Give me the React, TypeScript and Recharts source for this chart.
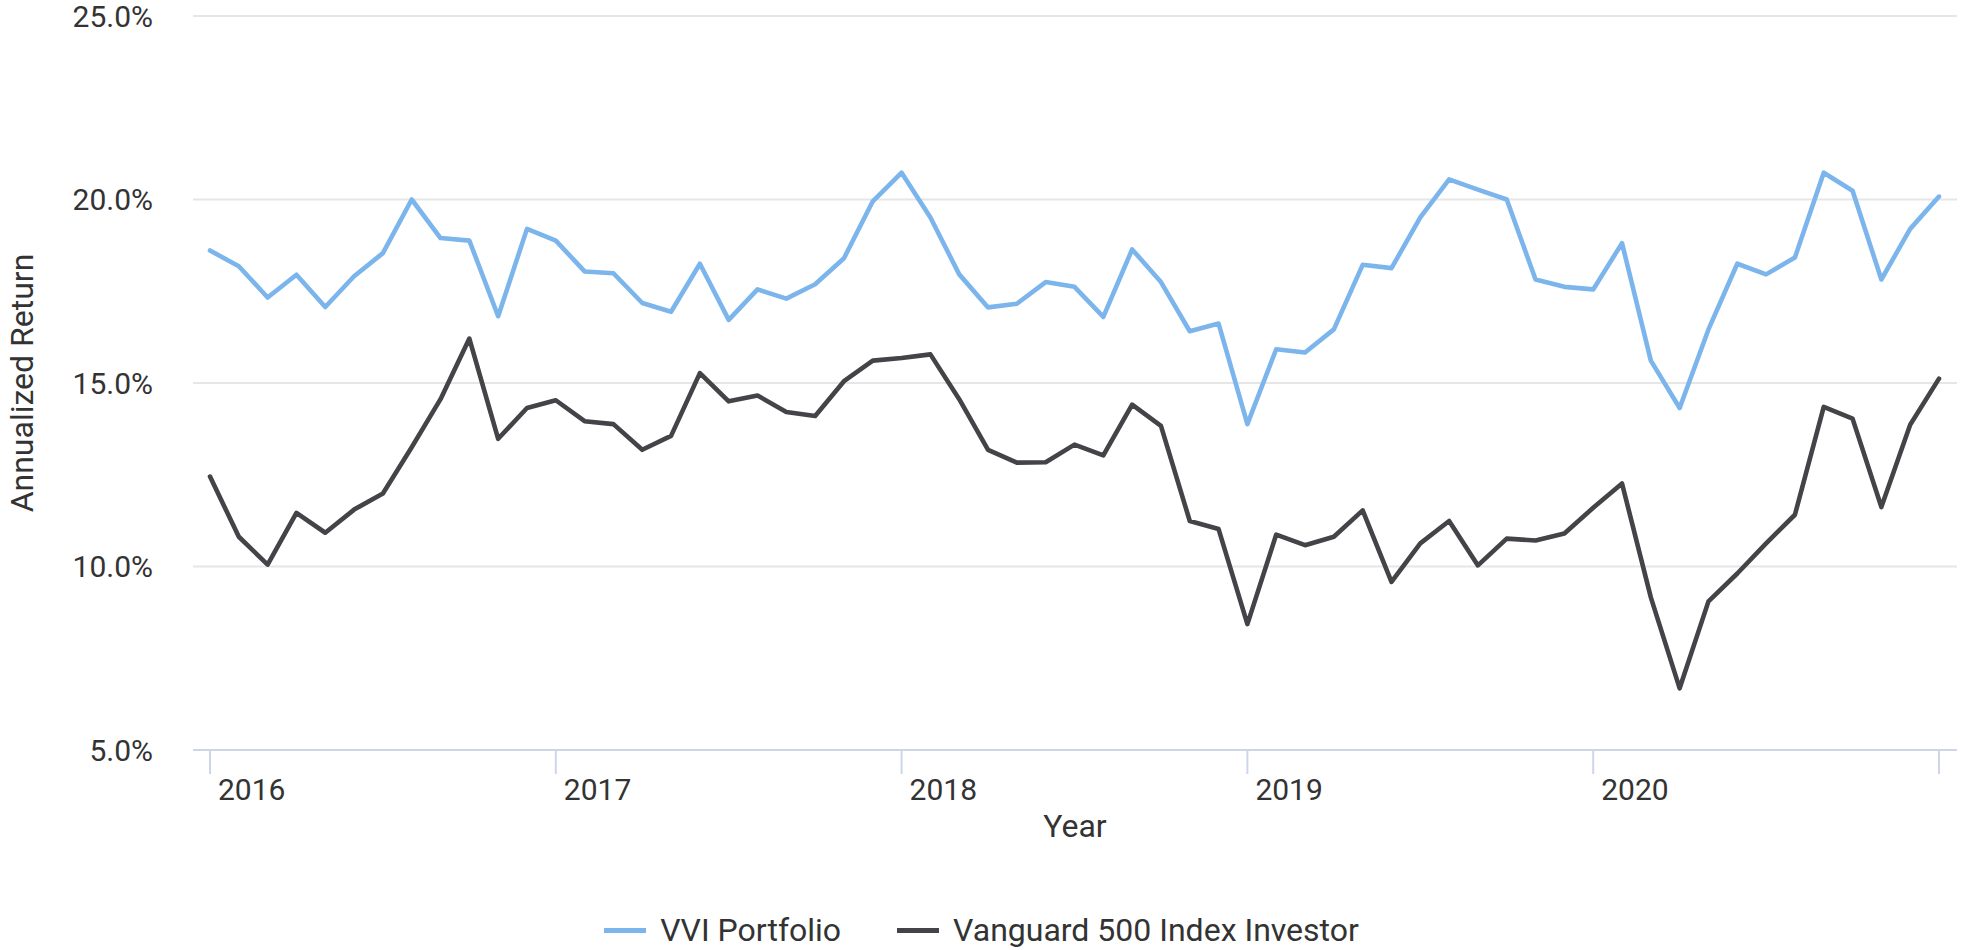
import React from 'react';
import { LineChart, Line, XAxis, YAxis, CartesianGrid, Label } from 'recharts';

// Month index (0 = Jan 2016 ... 60 = Jan 2021)
const monthIndex = [
  0, 1, 2, 3, 4, 5, 6, 7, 8, 9, 10, 11,
  12, 13, 14, 15, 16, 17, 18, 19, 20, 21, 22, 23,
  24, 25, 26, 27, 28, 29, 30, 31, 32, 33, 34, 35,
  36, 37, 38, 39, 40, 41, 42, 43, 44, 45, 46, 47,
  48, 49, 50, 51, 52, 53, 54, 55, 56, 57, 58, 59, 60,
];

const vviPortfolio = [
  18.61, 18.18, 17.33, 17.95, 17.07, 17.91, 18.54, 20.0, 18.95, 18.88, 16.82, 19.2,
  18.88, 18.04, 17.99, 17.18, 16.94, 18.25, 16.72, 17.55, 17.3, 17.69, 18.4, 19.95,
  20.73, 19.51, 17.96, 17.06, 17.16, 17.75, 17.62, 16.8, 18.64, 17.75, 16.41, 16.62,
  13.88, 15.92, 15.83, 16.46, 18.22, 18.13, 19.51, 20.55, 20.27, 20.0, 17.82, 17.62,
  17.55, 18.81, 15.61, 14.32, 16.46, 18.25, 17.96, 18.42, 20.73, 20.24, 17.82, 19.2, 20.08,
];

const vanguard500 = [
  12.45, 10.81, 10.05, 11.46, 10.92, 11.55, 11.99, 13.25, 14.56, 16.21, 13.48, 14.32,
  14.53, 13.96, 13.88, 13.18, 13.56, 15.27, 14.5, 14.66, 14.21, 14.1, 15.05, 15.61,
  15.68, 15.78, 14.56, 13.18, 12.83, 12.84, 13.32, 13.03, 14.41, 13.83, 11.24, 11.02,
  8.43, 10.87, 10.58, 10.81, 11.53, 9.58, 10.63, 11.24, 10.03, 10.76, 10.71, 10.9,
  11.6, 12.26, 9.16, 6.68, 9.05, 9.81, 10.63, 11.41, 14.35, 14.03, 11.62, 13.86, 15.12,
];

const yearTicks = [0, 12, 24, 36, 48, 60];
const yearLabels = ['2016', '2017', '2018', '2019', '2020', ''];
const yTicks = [5, 10, 15, 20, 25];

const seriesNames = ['VVI Portfolio', 'Vanguard 500 Index Investor'];
const seriesKeys = ['vvi', 'vfinx'];
const seriesColors = ['#7cb5ec', '#434348'];

const data = monthIndex.map((m, i) => ({
  m,
  vvi: vviPortfolio[i],
  vfinx: vanguard500[i],
}));

const FONT = 'Roboto, "Noto Sans", sans-serif';
const TEXT = '#333333';

const XTick = (props: any) => {
  const { x, y, payload } = props;
  const idx = yearTicks.indexOf(payload.value);
  const label = idx >= 0 ? yearLabels[idx] : '';
  return (
    <text x={x + 8} y={y + 24} textAnchor="start" fill={TEXT} fontSize={30} fontFamily={FONT}>
      {label}
    </text>
  );
};

const YTitle = (props: any) => {
  const vb = props.viewBox || {};
  const cx = 33;
  const cy = vb.y + vb.height / 2;
  return (
    <text
      x={cx}
      y={cy}
      transform={`rotate(-90, ${cx}, ${cy})`}
      textAnchor="middle"
      fill={TEXT}
      fontSize={32}
      fontFamily={FONT}
    >
      Annualized Return
    </text>
  );
};

const XTitle = (props: any) => {
  const vb = props.viewBox || {};
  return (
    <text
      x={vb.x + vb.width / 2}
      y={vb.y + 87}
      textAnchor="middle"
      fill={TEXT}
      fontSize={32}
      fontFamily={FONT}
    >
      Year
    </text>
  );
};

export default function App() {
  return (
    <div style={{ position: 'absolute', left: 0, top: 0, width: 1963, height: 950, background: '#fff' }}>
      <LineChart
        width={1963}
        height={950}
        data={data}
        margin={{ top: 16, right: 6, bottom: 140, left: 93 }}
        style={{ fontFamily: FONT }}
      >
        <CartesianGrid horizontal vertical={false} stroke="#e6e6e6" strokeWidth={2} />
        <XAxis
          dataKey="m"
          type="number"
          domain={[0, 60]}
          ticks={yearTicks}
          interval={0}
          height={60}
          padding={{ left: 17, right: 18 }}
          axisLine={{ stroke: '#ccd6eb', strokeWidth: 2 }}
          tickLine={{ stroke: '#ccd6eb', strokeWidth: 2 }}
          tickSize={24}
          tickMargin={2}
          tick={<XTick />}
        >
          <Label content={<XTitle />} />
        </XAxis>
        <YAxis
          type="number"
          domain={[5, 25]}
          ticks={yTicks}
          interval={0}
          width={100}
          axisLine={false}
          tickLine={false}
          tickSize={0}
          tickMargin={40}
          tick={{ fill: TEXT, fontSize: 30, fontFamily: FONT }}
          tickFormatter={(v: number) => `${v.toFixed(1)}%`}
        >
          <Label content={<YTitle />} />
        </YAxis>
        {seriesKeys.map((k, i) => (
          <Line
            key={k}
            type="linear"
            dataKey={k}
            name={seriesNames[i]}
            stroke={seriesColors[i]}
            strokeWidth={4.6}
            dot={false}
            activeDot={false}
            strokeLinejoin="round"
            strokeLinecap="round"
            isAnimationActive={false}
          />
        ))}
      </LineChart>
      <div
        style={{
          position: 'absolute',
          left: 0,
          top: 905,
          width: 1963,
          height: 50,
          display: 'flex',
          justifyContent: 'center',
          alignItems: 'center',
          fontFamily: FONT,
          fontSize: 32,
          color: TEXT,
        }}
      >
        {seriesNames.map((n, i) => (
          <div key={n} style={{ display: 'flex', alignItems: 'center', marginLeft: i === 0 ? 0 : 56 }}>
            <span style={{ display: 'inline-block', width: 42, height: 5, background: seriesColors[i], marginRight: 14 }} />
            <span style={{ whiteSpace: 'nowrap' }}>{n}</span>
          </div>
        ))}
      </div>
    </div>
  );
}
